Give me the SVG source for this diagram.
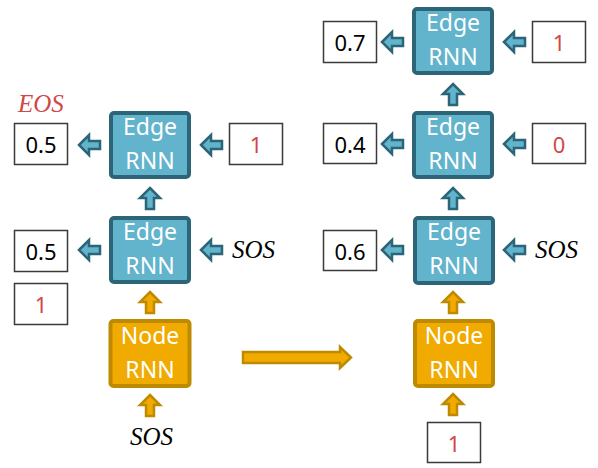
<svg xmlns="http://www.w3.org/2000/svg" xmlns:xlink="http://www.w3.org/1999/xlink" width="598" height="468" viewBox="0 0 598 468">
<style>
.edge{fill:#62B3CC;stroke:#2B6577;stroke-width:4}
.node{fill:#F0AA00;stroke:#BD8A00;stroke-width:4}
.lbl{font-family:"Noto Sans","Open Sans",sans-serif;font-size:23px;fill:#fff;text-anchor:middle}
.box{fill:#fff;stroke:#3a3a3a;stroke-width:1.5}
.num{font-family:"Noto Sans","Open Sans",sans-serif;font-size:22px;fill:#000;text-anchor:middle}
.sym{font-family:"Liberation Serif","DejaVu Serif",serif;font-style:italic;font-size:25px;fill:#000}
.red{fill:#D04848}
.ta{fill:#62B3CC;stroke:#2B6577;stroke-width:2.5;stroke-linejoin:miter}
.ga{fill:#F0AA00;stroke:#BD8A00;stroke-width:2.5;stroke-linejoin:miter}
</style>
<defs>
<path id="la" d="M1,0 L11,-10 L11,-4 L22,-4 L22,4 L11,4 L11,10 Z"/>
<path id="ua" d="M0,1 L10,11 L4,11 L4,22 L-4,22 L-4,11 L-10,11 Z"/>
</defs>

<g id="connectors">
<use xlink:href="#la" class="ta" x="78" y="145"/>
<use xlink:href="#la" class="ta" x="200" y="145"/>
<use xlink:href="#la" class="ta" x="78" y="250"/>
<use xlink:href="#la" class="ta" x="200" y="250"/>
<use xlink:href="#ua" class="ta" x="150" y="187"/>
<use xlink:href="#ua" class="ga" x="150" y="291"/>
<use xlink:href="#ua" class="ga" x="150" y="394"/>
<use xlink:href="#la" class="ta" x="381" y="42"/>
<use xlink:href="#la" class="ta" x="503" y="42"/>
<use xlink:href="#la" class="ta" x="381" y="144"/>
<use xlink:href="#la" class="ta" x="503" y="144"/>
<use xlink:href="#la" class="ta" x="381" y="250"/>
<use xlink:href="#la" class="ta" x="503" y="250"/>
<use xlink:href="#ua" class="ta" x="453" y="83"/>
<use xlink:href="#ua" class="ta" x="453" y="187"/>
<use xlink:href="#ua" class="ga" x="453" y="291"/>
<use xlink:href="#ua" class="ga" x="453" y="393"/>
<path class="ga" d="M243,352 L340,352 L340,347 L351,357.5 L340,368 L340,363 L243,363 Z"/>
</g>

<g id="eos"><text class="sym red" x="18" y="112">EOS</text></g>

<g id="out-l1"><rect class="box" x="14.5" y="123.5" width="53" height="41"/><text class="num" x="41" y="153">0.5</text></g>
<g id="in-l1"><rect class="box" x="229.5" y="123.5" width="53" height="41"/><text class="num red" x="256" y="153">1</text></g>
<g id="edge-l1"><rect class="edge" x="111" y="113" width="78" height="64" rx="3"/><text class="lbl" x="150" y="135">Edge</text><text class="lbl" x="150" y="169">RNN</text></g>

<g id="out-l2"><rect class="box" x="14.5" y="230.5" width="53" height="41"/><text class="num" x="41" y="260">0.5</text></g>
<g id="sos-l2"><text class="sym" x="232" y="258">SOS</text></g>
<g id="edge-l2"><rect class="edge" x="111" y="218" width="78" height="64" rx="3"/><text class="lbl" x="150" y="240">Edge</text><text class="lbl" x="150" y="274">RNN</text></g>
<g id="out-l3"><rect class="box" x="14.5" y="283.5" width="53" height="41"/><text class="num red" x="41" y="313">1</text></g>

<g id="node-l"><rect class="node" x="110.5" y="321" width="79" height="65" rx="3"/><text class="lbl" x="150" y="344">Node</text><text class="lbl" x="150" y="378">RNN</text></g>
<g id="sos-l"><text class="sym" x="130" y="445">SOS</text></g>

<g id="out-r1"><rect class="box" x="323.5" y="21.5" width="53" height="41"/><text class="num" x="350" y="51">0.7</text></g>
<g id="in-r1"><rect class="box" x="532.5" y="21.5" width="53" height="41"/><text class="num red" x="559" y="51">1</text></g>
<g id="edge-r1"><rect class="edge" x="414" y="9" width="78" height="64" rx="3"/><text class="lbl" x="453" y="31">Edge</text><text class="lbl" x="453" y="65">RNN</text></g>

<g id="out-r2"><rect class="box" x="323.5" y="123.5" width="53" height="40"/><text class="num" x="350" y="153">0.4</text></g>
<g id="in-r2"><rect class="box" x="532.5" y="123.5" width="53" height="40"/><text class="num red" x="559" y="153">0</text></g>
<g id="edge-r2"><rect class="edge" x="414" y="113" width="78" height="64" rx="3"/><text class="lbl" x="453" y="135">Edge</text><text class="lbl" x="453" y="169">RNN</text></g>

<g id="out-r3"><rect class="box" x="323.5" y="230.5" width="53" height="40"/><text class="num" x="350" y="260">0.6</text></g>
<g id="sos-r3"><text class="sym" x="535" y="258">SOS</text></g>
<g id="edge-r3"><rect class="edge" x="415" y="218" width="78" height="65" rx="3"/><text class="lbl" x="454" y="240">Edge</text><text class="lbl" x="454" y="274">RNN</text></g>

<g id="node-r"><rect class="node" x="415" y="321" width="78" height="65" rx="3"/><text class="lbl" x="454" y="344">Node</text><text class="lbl" x="454" y="378">RNN</text></g>
<g id="in-r4"><rect class="box" x="427.5" y="422.5" width="53" height="40"/><text class="num red" x="454" y="452">1</text></g>
</svg>
